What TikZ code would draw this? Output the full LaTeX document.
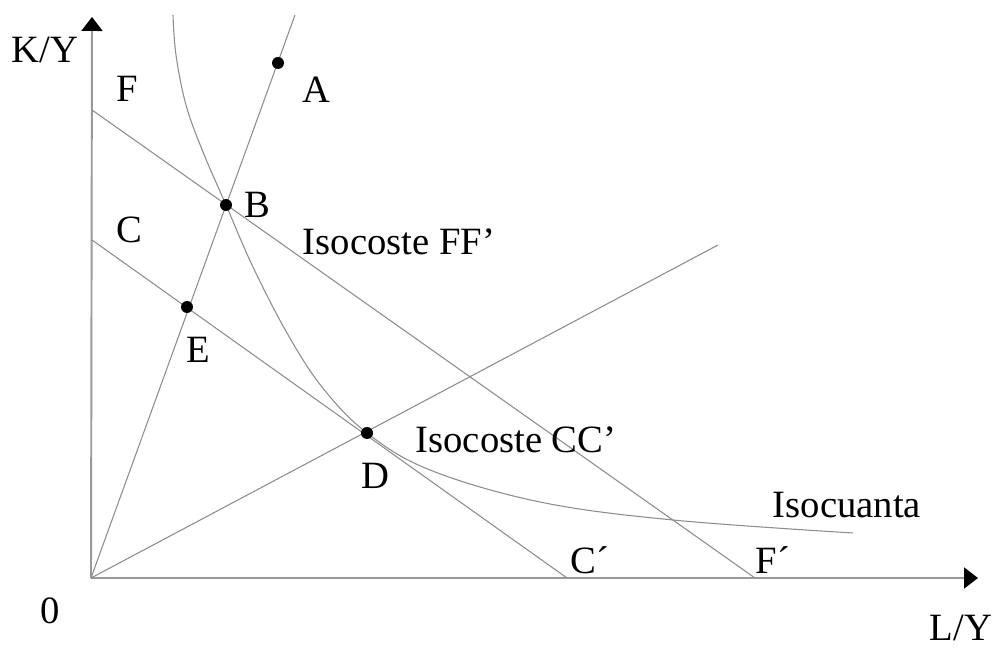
\documentclass[tikz,border=0pt]{standalone}
\usepackage{fontspec}
\setmainfont{Liberation Serif}
\usetikzlibrary{arrows.meta}

\tikzset{
  guide/.style={draw=black!45, line width=0.6pt},
  axis/.style={draw=black!40, line width=1.1pt,
    -{Triangle[length=0.28cm,width=0.42cm,color=black]}},
  dot/.style={circle, fill=black, inner sep=0pt, minimum size=0.24cm},
  lbl/.style={font=\fontsize{22}{26}\selectfont, inner sep=0pt},
}

\begin{document}
\begin{tikzpicture}[x=0.02cm,y=-0.02cm]
   \useasboundingbox (0,0) rectangle (997,648);

   % ends of the lines
   \coordinate (O) at (91,578);
   \coordinate (Ytip) at (92,17);
   \coordinate (Xtip) at (978,578);
   \coordinate (Ftop) at (92,110);
   \coordinate (Fend) at (755,578);
   \coordinate (Ctop) at (92,240);
   \coordinate (Cend) at (567,578);
   \coordinate (Rtop) at (295,15);
   \coordinate (Rend) at (718,245);

   % axes
   \draw[axis] (O) -- (Ytip);
   \draw[axis] (O) -- (Xtip);

   % isocost lines and rays
   \draw[guide] (Ftop) -- (Fend);
   \draw[guide] (Ctop) -- (Cend);
   \draw[guide] (O) -- (Rtop);
   \draw[guide] (O) -- (Rend);

   % isoquant
   \draw[guide] plot[smooth, tension=0.6] coordinates {
      (173,15) (176,55) (186,105) (203,152) (226,205) (253,267)
      (287,333) (322,387) (367,433) (430,470) (540,502) (673,520) (853,533)};

   % points
   \node[dot] (A) at (278,63) {};
   \node[dot] (B) at (226,205) {};
   \node[dot] (E) at (187,307) {};
   \node[dot] (D) at (367,433) {};

   % labels
   \node[lbl] at (45,50)   (ky) {K/Y};
   \node[lbl] at (127,89)  (lf) {F};
   \node[lbl] at (316,90)  (la) {A};
   \node[lbl] at (257,205) (lb) {B};
   \node[lbl] at (129,230) (lc) {C};
   \node[lbl] at (198,350) (le) {E};
   \node[lbl] at (375,476) (ld) {D};
   \node[lbl] at (399,242) (ff) {Isocoste FF'};
   \node[lbl] at (516,440) (cc) {Isocoste CC'};
   \node[lbl] at (847,505) (iq) {Isocuanta};
   \node[lbl] at (590,560) (lc2) {C´};
   \node[lbl] at (773,560) (lf2) {F´};
   \node[lbl] at (50,611)  (l0) {0};
   \node[lbl] at (961,628) (ly) {L/Y};

\end{tikzpicture}
\end{document}
